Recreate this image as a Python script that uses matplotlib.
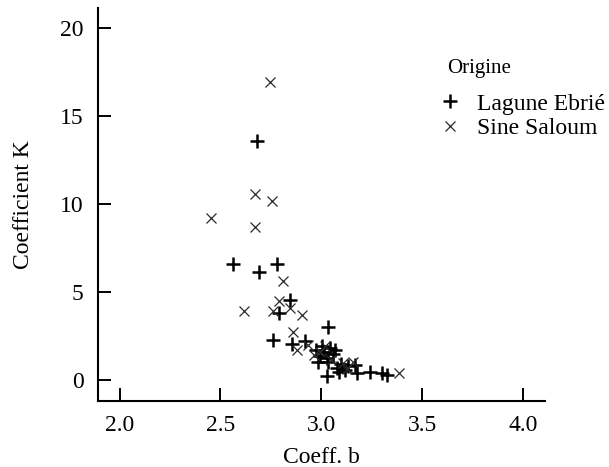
import matplotlib
matplotlib.use("Agg")
import matplotlib.pyplot as plt

# Lagune Ebrié (+)
lagune_b = [2.680, 2.564, 2.692, 2.782, 2.844, 2.791, 2.762, 2.853, 2.919, 3.034,
            2.973, 2.993, 3.013, 3.028, 3.043, 3.057, 2.983, 3.003, 3.033, 3.067,
            3.026, 3.077, 3.097, 3.117, 3.132, 3.087, 3.166, 3.176, 3.241, 3.299, 3.326]
lagune_k = [13.57, 6.59, 6.11, 6.59, 4.54, 3.79, 2.27, 2.04, 2.23, 3.03,
            1.70, 1.36, 1.59, 1.25, 1.82, 1.48, 1.02, 1.93, 1.02, 1.70,
            0.23, 0.68, 0.91, 0.57, 0.79, 0.45, 0.85, 0.40, 0.45, 0.41, 0.28]

# Sine Saloum (x)
saloum_b = [2.745, 2.671, 2.757, 2.671, 2.452, 2.811, 2.790, 2.617, 2.762, 2.844,
            2.905, 2.858, 2.878, 2.935, 2.963, 3.018, 3.048, 2.993, 3.108, 3.157,
            3.127, 3.384]
saloum_k = [16.90, 10.54, 10.14, 8.70, 9.18, 5.64, 4.48, 3.93, 3.93, 4.07,
            3.69, 2.71, 1.70, 1.99, 1.42, 1.93, 1.14, 1.59, 0.97, 1.02,
            0.62, 0.41]

x_ticks = [2.0, 2.5, 3.0, 3.5, 4.0]
x_labels = ["2.0", "2.5", "3.0", "3.5", "4.0"]
y_ticks = [0, 5, 10, 15, 20]
y_labels = ["0", "5", "10", "15", "20"]
legend_title = "Origine"

plt.rcParams['font.family'] = ['Liberation Serif', 'DejaVu Serif']
fs = 17
tfs = 15
lfs = 17

fig = plt.figure(figsize=(6.09, 4.67), dpi=100)
ax = fig.add_axes([97.7 / 609, 1 - 400.7 / 467, (545 - 97.7) / 609, (400.7 - 8.3) / 467])

ax.plot(lagune_b, lagune_k, linestyle='none', marker='+', markersize=9.5,
        markeredgewidth=1.8, color='black', label='Lagune Ebrié')
ax.plot(saloum_b, saloum_k, linestyle='none', marker='x', markersize=7,
        markeredgewidth=0.9, color='#2a2a2a', label='Sine Saloum')

ax.set_xlim(1.892, 4.107)
ax.set_ylim(-1.175, 21.10)
ax.set_xticks(x_ticks)
ax.set_xticklabels(x_labels)
ax.set_yticks(y_ticks)
ax.set_yticklabels(y_labels)

for s in ['top', 'right']:
    ax.spines[s].set_visible(False)
for s in ['left', 'bottom']:
    ax.spines[s].set_linewidth(1.5)

ax.tick_params(direction='in', length=9.5, width=1.4, labelsize=fs, pad=10)
ax.set_xlabel('Coeff. b', fontsize=fs, labelpad=8)
ax.set_ylabel('Coefficient K', fontsize=fs, labelpad=19)

fig.text(447 / 609, 1 - 73 / 467, legend_title, fontsize=tfs, ha='left', va='baseline')
leg = ax.legend(loc='upper left',
                bbox_to_anchor=(446 / 609, 1 - 93 / 467), bbox_transform=fig.transFigure,
                frameon=False, fontsize=lfs, handlelength=0.3,
                handletextpad=1.0, borderpad=0, borderaxespad=0, labelspacing=0.12)

fig.savefig('out.png', dpi=100)
